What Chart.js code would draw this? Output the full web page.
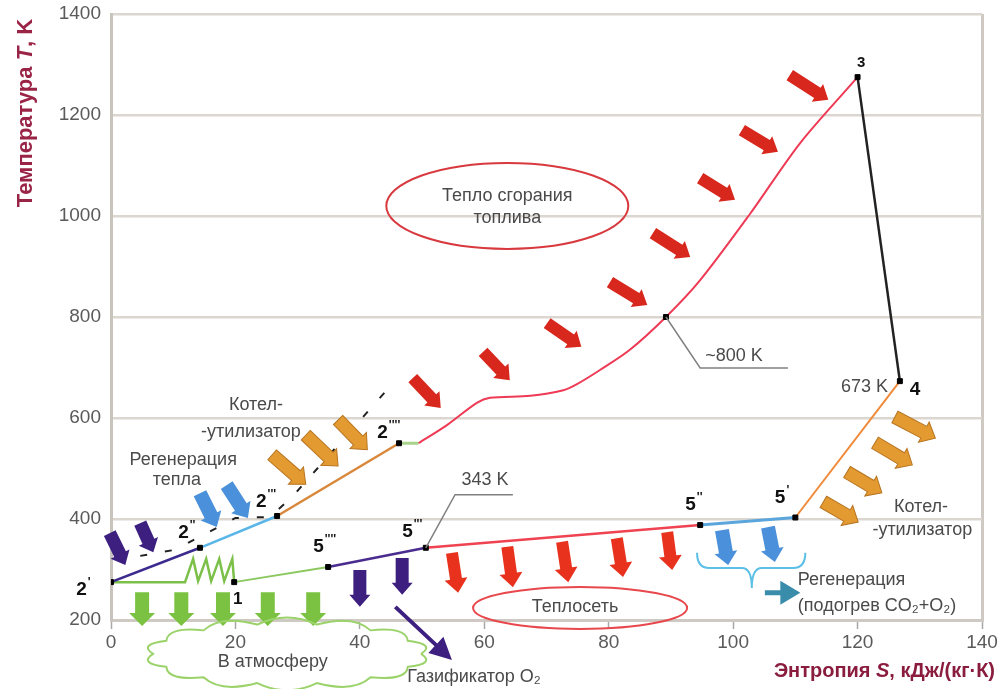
<!DOCTYPE html>
<html lang="ru">
<head>
<meta charset="utf-8">
<title>T-S диаграмма</title>
<script src="https://cdn.jsdelivr.net/npm/chart.js@4.4.0/dist/chart.umd.min.js"></script>
<style>
  html, body { margin: 0; padding: 0; background: #fff; }
</style>
</head>
<body>
<canvas id="myCanvas" width="1000" height="689"></canvas>
<script>
// ключевые точки цикла: S, кДж/(кг·К) и T, K
var pointNames = ["2'", "2''", "2'''", "2''''", "3", "4", "5'", "5''", "5'''", "5''''", "1"]
var pointS = [0, 14.3, 26.7, 46.3, 120.0, 126.8, 110.0, 94.7, 50.6, 34.9, 19.8]
var pointT = [275, 343, 406, 550, 1275, 673, 403, 388, 343, 305, 275]

// подвод теплоты сгорания топлива до точки 3
var fuelS = [49.4, 54.0, 58.8, 60.9, 67.4, 72.7, 74.9, 78.6, 83.4, 89.2, 94.7, 102.7, 110.8, 120.0]
var fuelT = [550, 586, 630, 640, 644, 655, 667, 695, 735, 800, 873, 1004, 1145, 1275]

// точка ~800 K на линии горения
var markS = [89.2]
var markT = [800]

// сжатие с промохлаждением (1 -> 2')
var compS = [19.8, 19.5, 18.2, 17.4, 16.1, 15.3, 14.0, 13.2, 11.9, 0]
var compT = [275, 321, 277, 321, 277, 321, 277, 321, 275, 275]

// штриховая линия над участком 2'-2''''
var dashS = [4.7, 10.3, 20.0, 25.5, 29.0, 44.3]
var dashT = [327, 339, 402, 404, 442, 655]

var sTicks = [0, 20, 40, 60, 80, 100, 120, 140]
var tTicks = [200, 400, 600, 800, 1000, 1200, 1400]

var FONT = '"Liberation Sans", Arial, sans-serif'

function pts(sArr, tArr) {
    return sArr.map(function (s, i) { return { x: s, y: tArr[i] } })
}
function seg(i, j) {
    return [{ x: pointS[i], y: pointT[i] }, { x: pointS[j], y: pointT[j] }]
}
function line(data, color, width, extra) {
    var ds = { data: data, borderColor: color, borderWidth: width, showLine: true, pointRadius: 0, order: 2, tension: 0 }
    for (var k in extra) ds[k] = extra[k]
    return ds
}

// стрелки: [S1, T1, S2, T2]
var arrowGroups = [
    { fill: '#d8281e', shaft: 12, headW: 21, head: 13, list: [
        [109.1, 1279, 115.3, 1230], [101.4, 1170, 107.2, 1127], [94.7, 1075, 100.3, 1032],
        [87.1, 966, 93.1, 919], [80.2, 869, 86.2, 824], [70.1, 788, 75.6, 741],
        [59.8, 731, 64.1, 675], [48.5, 679, 53.0, 620]] },
    { fill: '#e39a30', stroke: '#b77420', shaft: 13, headW: 23, head: 13, list: [
        [25.9, 527, 31.3, 469], [31.3, 566, 36.5, 505], [36.5, 596, 41.2, 537],
        [126.0, 602, 132.5, 560], [122.8, 551, 128.8, 507], [118.3, 493, 123.9, 452], [114.5, 434, 120.1, 394]] },
    { fill: '#4a90da', shaft: 14, headW: 23, head: 13, list: [
        [14.3, 451, 17.0, 384], [18.6, 467, 22.0, 402], [98.2, 378, 99.2, 309], [105.6, 384, 106.7, 315]] },
    { fill: '#3d1f80', shaft: 13, headW: 21, head: 12, list: [
        [-0.2, 372, 2.3, 309], [4.7, 392, 6.8, 334], [40.0, 299, 40.0, 226], [46.8, 323, 46.8, 250]] },
    { fill: '#7cc242', shaft: 14, headW: 26, head: 13, list: [
        [5.0, 255, 5.0, 188], [11.3, 255, 11.3, 188], [18.0, 255, 18.0, 188], [25.2, 255, 25.2, 188], [32.5, 255, 32.5, 188]] },
    { fill: '#e8321e', shaft: 12, headW: 23, head: 14, list: [
        [54.8, 333, 55.8, 254], [63.7, 345, 64.6, 265], [72.5, 355, 73.5, 275], [81.3, 362, 82.3, 285], [89.4, 374, 90.2, 299]] },
    { fill: '#3a8cab', shaft: 5, headW: 24, head: 20, list: [[105.1, 254, 110.8, 254]] },
    { fill: '#3d1f80', shaft: 4, headW: 22, head: 22, list: [[45.7, 226, 54.8, 121]] }
]

// выноски
var leaders = [
    [[89.2, 800], [94.7, 699], [108.8, 699]],
    [[50.6, 343], [55.3, 448], [64.6, 448]]
]

// подписи: [текст, S, T, выравнивание]
var texts = [
    ['Тепло сгорания', 63.7, 1040, 'center'], ['топлива', 63.7, 996, 'center'],
    ['~800 K', 95.5, 723, 'left'], ['343 K', 60.1, 477, 'center'], ['673 K', 124.9, 662, 'right'],
    ['Котел-', 23.3, 626, 'center'], ['-утилизатор', 22.5, 572, 'center'],
    ['Регенерация', 11.6, 517, 'center'], ['тепла', 10.6, 477, 'center'],
    ['Котел-', 130.2, 424, 'center'], ['-утилизатор', 130.4, 378, 'center'],
    ['Регенерация', 110.4, 279, 'left'], ['(подогрев CO₂+O₂)', 110.4, 228, 'left'],
    ['Теплосеть', 74.6, 226, 'center'], ['В атмосферу', 26.0, 117, 'center'],
    ['Газификатор O₂', 47.6, 87, 'left']
]

// подписи точек: [цифра, штрихи, S, T, размер]
var pointTags = [
    ['2', "'", -5.6, 260, 19], ['2', "''", 10.8, 372, 19], ['2', "'''", 23.3, 434, 19], ['2', "''''", 42.8, 570, 19],
    ['3', '', 119.9, 1303, 15], ['4', '', 128.4, 656, 19], ['1', '', 19.6, 240, 17],
    ['5', "'", 106.7, 443, 19], ['5', "''", 92.3, 428, 19], ['5', "'''", 46.8, 374, 19], ['5', "''''", 32.5, 345, 19]
]

function drawArrow(ctx, x1, y1, x2, y2, st) {
    var len = Math.hypot(x2 - x1, y2 - y1)
    var hl = Math.min(st.head, len * 0.8), sw = st.shaft / 2, hw = st.headW / 2
    ctx.save()
    ctx.translate(x1, y1)
    ctx.rotate(Math.atan2(y2 - y1, x2 - x1))
    ctx.beginPath()
    ctx.moveTo(0, -sw); ctx.lineTo(len - hl, -sw); ctx.lineTo(len - hl, -hw); ctx.lineTo(len, 0)
    ctx.lineTo(len - hl, hw); ctx.lineTo(len - hl, sw); ctx.lineTo(0, sw); ctx.closePath()
    ctx.fillStyle = st.fill
    ctx.fill()
    if (st.stroke) { ctx.strokeStyle = st.stroke; ctx.lineWidth = 1; ctx.stroke() }
    ctx.restore()
}

var overlay = {
    id: 'overlay',
    afterDatasetsDraw: function (chart) {
        var ctx = chart.ctx, xs = chart.scales.x, ys = chart.scales.y
        var X = function (s) { return xs.getPixelForValue(s) }
        var Y = function (t) { return ys.getPixelForValue(t) }
        arrowGroups.forEach(function (g) {
            g.list.forEach(function (a) { drawArrow(ctx, X(a[0]), Y(a[1]), X(a[2]), Y(a[3]), g) })
        })
    },
    afterDraw: function (chart) {
        var ctx = chart.ctx, xs = chart.scales.x, ys = chart.scales.y
        var X = function (s) { return xs.getPixelForValue(s) }
        var Y = function (t) { return ys.getPixelForValue(t) }
        ctx.save()

        // эллипсы
        ctx.lineWidth = 2
        ctx.strokeStyle = '#d8393f'
        ctx.beginPath(); ctx.ellipse(X(63.7), Y(1020), 121, 43, 0, 0, Math.PI * 2); ctx.stroke()
        ctx.strokeStyle = '#e8484c'
        ctx.beginPath(); ctx.ellipse(X(75.4), Y(224), 107, 21, 0, 0, Math.PI * 2); ctx.stroke()

        // облако
        var cx = X(28.3), cy = Y(133), rx = 134, ry = 30, n = 14
        ctx.strokeStyle = '#9bd36a'
        ctx.beginPath()
        for (var i = 0; i <= n; i++) {
            var a = i / n * Math.PI * 2
            var px = cx + rx * Math.cos(a), py = cy + ry * Math.sin(a)
            if (i === 0) { ctx.moveTo(px, py); continue }
            var am = (i - 0.5) / n * Math.PI * 2
            ctx.quadraticCurveTo(cx + rx * 1.14 * Math.cos(am), cy + ry * 1.45 * Math.sin(am), px, py)
        }
        ctx.stroke()

        // фигурная скобка
        var l = X(94.2), r = X(111.6), m = X(103.0), top = Y(333), band = Y(303), tip = Y(263.5)
        ctx.strokeStyle = '#5cbfe6'
        ctx.beginPath()
        ctx.moveTo(l, top); ctx.quadraticCurveTo(l, band, l + 12, band); ctx.lineTo(m - 10, band)
        ctx.quadraticCurveTo(m, band, m, tip)
        ctx.moveTo(m, tip); ctx.quadraticCurveTo(m, band, m + 10, band); ctx.lineTo(r - 12, band)
        ctx.quadraticCurveTo(r, band, r, top)
        ctx.stroke()

        // выноски
        ctx.strokeStyle = '#808080'
        ctx.lineWidth = 1.5
        leaders.forEach(function (p) {
            ctx.beginPath()
            p.forEach(function (q, k) { if (k) ctx.lineTo(X(q[0]), Y(q[1])); else ctx.moveTo(X(q[0]), Y(q[1])) })
            ctx.stroke()
        })

        // подписи
        ctx.fillStyle = '#4a4a4a'
        ctx.textBaseline = 'middle'
        ctx.font = '18px ' + FONT
        texts.forEach(function (t) {
            ctx.textAlign = t[3]
            ctx.fillText(t[0], X(t[1]), Y(t[2]))
        })

        ctx.fillStyle = '#111'
        ctx.textAlign = 'left'
        pointTags.forEach(function (p) {
            var x = X(p[2]), y = Y(p[3])
            ctx.font = 'bold ' + p[4] + 'px ' + FONT
            ctx.fillText(p[0], x, y)
            var w = ctx.measureText(p[0]).width
            if (p[1]) {
                ctx.font = 'bold 12px ' + FONT
                ctx.fillText(p[1], x + w + 1, y - 7)
            }
        })

        // подписи осей
        function mixed(parts, x, y, align) {
            var total = 0
            parts.forEach(function (p) { ctx.font = p[1] + FONT; total += ctx.measureText(p[0]).width })
            var pos = align === 'right' ? x - total : x - total / 2
            ctx.textAlign = 'left'
            parts.forEach(function (p) { ctx.font = p[1] + FONT; ctx.fillText(p[0], pos, y); pos += ctx.measureText(p[0]).width })
        }
        ctx.save()
        ctx.fillStyle = '#9a2446'
        ctx.translate(26, 113)
        ctx.rotate(-Math.PI / 2)
        mixed([['Температура ', 'bold 22px '], ['T', 'italic bold 22px '], [', K', 'bold 22px ']], 0, 0, 'center')
        ctx.restore()
        ctx.fillStyle = '#8a1c3e'
        mixed([['Энтропия ', 'bold 20px '], ['S', 'italic bold 20px '], [', кДж/(кг·К)', 'bold 20px ']], 995, 671, 'right')

        ctx.restore()
    }
}

var ctx = document.getElementById("myCanvas")
var myChart = new Chart(ctx, {
    type: 'scatter',
    data: {
        datasets: [
            line(seg(0, 1), '#3d2a8e', 2.5),
            line(seg(1, 2), '#5ab6e8', 2.5),
            line(seg(2, 3), '#d9873a', 2.5),
            line([{ x: pointS[3], y: pointT[3] }, { x: fuelS[0], y: fuelT[0] }], '#a8d38a', 3),
            line(pts(fuelS, fuelT), '#ee3a55', 2, { tension: 0.3 }),
            line(seg(4, 5), '#222222', 2.5),
            line(seg(5, 6), '#f08a3a', 2),
            line(seg(6, 7), '#5aa6dc', 3),
            line(seg(7, 8), '#ef4352', 2.5),
            line(seg(8, 9), '#4a2c8e', 2.5),
            line(seg(9, 10), '#8cc860', 2),
            line(pts(compS, compT), '#7cc04a', 2.5),
            line(pts(dashS, dashT), '#222222', 2, { borderDash: [7, 18] }),
            {
                data: pts(pointS, pointT).concat(pts(markS, markT)),
                pointStyle: 'rect', pointRadius: 3.5, backgroundColor: '#000', borderColor: '#000',
                showLine: false, order: 0
            }
        ]
    },
    options: {
        responsive: false,
        animation: false,
        layout: { padding: { top: 14, right: 18, left: 0, bottom: 0 } },
        plugins: { legend: { display: false }, tooltip: { enabled: false } },
        scales: {
            x: {
                type: 'linear', min: 0, max: 140,
                afterBuildTicks: function (s) { s.ticks = sTicks.map(function (v) { return { value: v } }) },
                afterFit: function (s) { s.height = 69 },
                grid: {
                    color: function (c) { return c.tick && c.tick.value === 140 ? '#cfc9c4' : 'rgba(0,0,0,0)' },
                    lineWidth: 3, tickLength: 9, tickColor: '#a8a8a8', tickWidth: 1.5
                },
                border: { color: '#cfc9c4', width: 3 },
                ticks: { color: '#5a5a5a', font: { family: FONT, size: 19 }, padding: 2, maxRotation: 0,
                    callback: function (v) { return String(v) } }
            },
            y: {
                type: 'linear', min: 200, max: 1400,
                afterBuildTicks: function (s) { s.ticks = tTicks.map(function (v) { return { value: v } }) },
                afterFit: function (s) { s.width = 111; s.paddingTop = 0; s.paddingBottom = 0 },
                grid: { color: '#dcd6d1', lineWidth: 2.5, tickLength: 0 },
                border: { color: '#c9c3bd', width: 3 },
                ticks: { color: '#5a5a5a', font: { family: FONT, size: 19 }, padding: 10,
                    callback: function (v) { return String(v) } }
            }
        }
    },
    plugins: [overlay]
})
</script>
</body>
</html>
